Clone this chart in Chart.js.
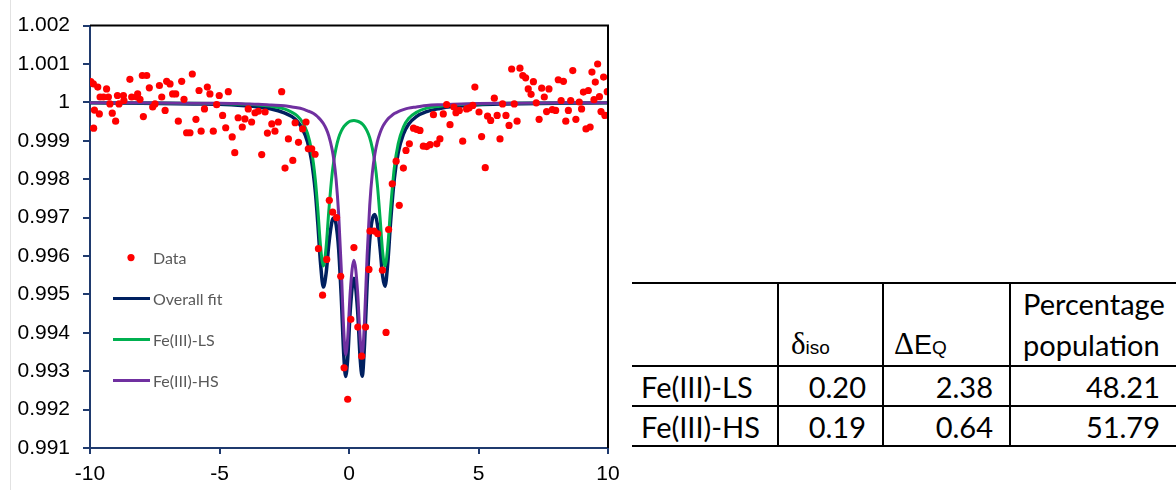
<!DOCTYPE html>
<html lang="en">
<head>
  <meta charset="UTF-8" />
  <title>Mössbauer spectrum fit</title>
  <script src="https://cdn.jsdelivr.net/npm/chart.js"></script>
  <style>
    body { margin: 0; width: 1176px; height: 490px; background: #fff; position: relative; overflow: hidden; }
    #edge { position: absolute; left: 10px; top: 0; width: 1px; height: 490px; background: #e2e2e2; }
    #plot { position: absolute; left: 0; top: 0; width: 620px; height: 490px; }
    #params {
      position: absolute; left: 632px; top: 282px; width: 544px;
      border-collapse: collapse; table-layout: fixed;
      font-family: Lato, "Open Sans", sans-serif; font-size: 29px; color: #000;
    }
    #params th, #params td { padding: 0; border-top: 2px solid #000; border-bottom: 2px solid #000; }
    #params th + th, #params td + td { border-left: 2px solid #000; }
    #params th { height: 79px; vertical-align: bottom; text-align: left; font-weight: normal; line-height: 1.4; padding-bottom: 0; }
    #params td { height: 38px; text-align: right; padding-right: 16px; line-height: 1; }
    #params td:first-child { text-align: left; padding-left: 9px; padding-right: 0; }
    .sym { font-family: "Liberation Serif", serif; font-size: 31px; }
    .sub { font-family: "Liberation Sans", Arial, sans-serif; font-size: 19px; }
    .ae { font-family: "Liberation Sans", Arial, sans-serif; font-size: 27px; }
  </style>
</head>
<body>
<div id="edge"></div>
<div id="plot"><canvas id="grafico"></canvas></div>
<table id="params">
  <colgroup><col style="width:146px"><col style="width:105px"><col style="width:127px"><col style="width:166px"></colgroup>
  <thead>
    <tr>
      <th></th>
      <th style="padding-left:12px"><span class="sym">δ</span><span class="sub">iso</span></th>
      <th style="padding-left:10px"><span class="sym">Δ</span><span class="ae">E</span><span class="sub">Q</span></th>
      <th style="padding-left:12px">Percentage<br>population</th>
    </tr>
  </thead>
  <tbody id="paramRows"></tbody>
</table>
<script>
// table values
const species = ['Fe(III)-LS', 'Fe(III)-HS'];
const isomerShift = [0.20, 0.19];
const quadSplit = [2.38, 0.64];
const population = [48.21, 51.79];

// measured points (velocity, relative transmission)
const dataX = [-9.97, -9.87, -9.86, -9.83, -9.70, -9.64, -9.61, -9.48, -9.36, -9.29, -9.23, -9.14, -9.01, -8.94, -8.88, -8.71, -8.69, -8.46, -8.39, -8.20,
  -8.16, -8.07, -7.98, -7.94, -7.81, -7.71, -7.58, -7.49, -7.32, -7.23, -7.10, -7.04, -6.91, -6.81, -6.69, -6.59, -6.46, -6.37, -6.27, -6.14,
  -6.05, -5.91, -5.79, -5.71, -5.58, -5.47, -5.37, -5.24, -5.11, -5.01, -4.88, -4.76, -4.66, -4.51, -4.41, -4.28, -4.12, -4.02, -3.89, -3.76,
  -3.63, -3.50, -3.37, -3.24, -3.15, -2.98, -2.86, -2.73, -2.60, -2.47, -2.34, -2.17, -2.08, -1.95, -1.79, -1.66, -1.57, -1.44, -1.31, -1.18,
  -1.02, -0.86, -0.76, -0.63, -0.48, -0.32, -0.19, -0.05, 0.07, 0.19, 0.34, 0.49, 0.64, 0.77, 0.81, 0.97, 1.11, 1.29, 1.43, 1.53,
  1.67, 1.82, 1.94, 2.10, 2.20, 2.33, 2.49, 2.61, 2.74, 2.87, 3.00, 3.13, 3.26, 3.39, 3.51, 3.64, 3.77, 3.90, 4.05, 4.13,
  4.26, 4.39, 4.54, 4.64, 4.78, 4.86, 5.02, 5.12, 5.26, 5.35, 5.47, 5.61, 5.72, 5.83, 5.93, 6.06, 6.18, 6.28, 6.38, 6.49,
  6.60, 6.71, 6.82, 6.92, 7.03, 7.12, 7.23, 7.34, 7.44, 7.54, 7.63, 7.72, 7.85, 7.98, 8.08, 8.19, 8.28, 8.37, 8.47, 8.56,
  8.64, 8.76, 8.89, 8.98, 9.05, 9.15, 9.24, 9.31, 9.38, 9.46, 9.51, 9.60, 9.67, 9.73, 9.83, 9.88, 9.97];
const dataY = [1.00054, 1.00048, 0.99933, 0.99980, 1.00040, 0.99970, 1.00014, 1.00014, 1.00035, 1.00014, 0.99996, 0.99972, 0.99951, 1.00018, 0.99996, 1.00018, 1.00005, 1.00060, 1.00014, 1.00014,
  1.00022, 1.00008, 1.00070, 0.99963, 1.00070, 1.00038, 0.99988, 0.99996, 1.00044, 1.00014, 0.99979, 1.00055, 1.00048, 1.00022, 1.00022, 0.99951, 1.00055, 1.00008, 0.99921, 0.99921,
  1.00074, 0.99956, 1.00031, 0.99925, 0.99983, 1.00040, 1.00022, 0.99925, 0.99994, 1.00018, 0.99966, 0.99934, 1.00028, 0.99910, 0.99869, 0.99960, 0.99936, 0.99957, 0.99983, 0.99949,
  0.99973, 0.99977, 0.99864, 0.99975, 0.99920, 0.99944, 0.99925, 0.99949, 1.00028, 0.99829, 0.99905, 0.99849, 0.99947, 0.99896, 0.99931, 0.99949, 0.99879, 0.99879, 0.99865, 0.99619,
  0.99498, 0.99591, 0.99745, 0.99714, 0.99700, 0.99547, 0.99309, 0.99227, 0.99435, 0.99622, 0.99415, 0.99339, 0.99415, 0.99565, 0.99665, 0.99665, 0.99658, 0.99563, 0.99401, 0.99669,
  0.99788, 0.99847, 0.99732, 0.99829, 0.99875, 0.99892, 0.99933, 0.99930, 0.99927, 0.99886, 0.99885, 0.99890, 0.99968, 0.99892, 0.99905, 0.99970, 0.99994, 0.99942, 0.99988, 0.99973,
  0.99979, 0.99899, 0.99983, 0.99986, 0.99992, 1.00040, 0.99975, 0.99911, 0.99830, 0.99964, 0.99953, 1.00011, 0.99966, 0.99905, 0.99996, 0.99966, 0.99940, 1.00087, 0.99996, 0.99951,
  1.00089, 1.00070, 1.00064, 1.00035, 1.00021, 1.00054, 0.99999, 0.99956, 1.00037, 1.00014, 0.99976, 1.00035, 0.99981, 0.99979, 1.00059, 1.00005, 1.00055, 0.99951, 0.99979, 1.00005,
  1.00083, 0.99956, 1.00001, 0.99983, 1.00027, 0.99931, 1.00031, 0.99936, 1.00079, 1.00007, 1.00053, 1.00100, 1.00015, 0.99976, 1.00066, 0.99966, 1.00028];

// fitted curves
const fitX = [-10, -8, -6, -5, -4, -3.5, -3, -2.5, -2.2, -2, -1.8, -1.6, -1.45, -1.3, -1.2, -1.1, -0.99, -0.88, -0.78, -0.65, -0.58,
  -0.5, -0.4, -0.3, -0.2, -0.13, -0.05, 0.05, 0.19, 0.33, 0.43, 0.51, 0.6, 0.7, 0.8, 0.9, 1.0, 1.1, 1.2, 1.3, 1.39,
  1.5, 1.6, 1.75, 1.9, 2.1, 2.3, 2.6, 3, 3.5, 4, 5, 6, 8, 10];
const fitOverall = [0.99999, 0.99998, 0.99996, 0.99995, 0.99991, 0.99988, 0.99983, 0.99973, 0.99963, 0.99951, 0.99931, 0.99897, 0.99850, 0.99767, 0.99681, 0.99582, 0.99519, 0.99557, 0.99630, 0.99692, 0.99699,
  0.99683, 0.99618, 0.99494, 0.99340, 0.99286, 0.99333, 0.99460, 0.99542, 0.99460, 0.99334, 0.99287, 0.99370, 0.99526, 0.99640, 0.99696, 0.99708, 0.99681, 0.99620, 0.99547, 0.99521,
  0.99584, 0.99683, 0.99801, 0.99869, 0.99917, 0.99943, 0.99963, 0.99976, 0.99984, 0.99989, 0.99994, 0.99996, 0.99998, 0.99999];
const fitLS = [0.99999, 0.99999, 0.99998, 0.99997, 0.99995, 0.99993, 0.99990, 0.99983, 0.99974, 0.99965, 0.99949, 0.99919, 0.99876, 0.99799, 0.99719, 0.99627, 0.99574, 0.99626, 0.99717, 0.99815, 0.99851,
  0.99881, 0.99908, 0.99925, 0.99937, 0.99942, 0.99947, 0.99951, 0.99953, 0.99951, 0.99948, 0.99944, 0.99937, 0.99925, 0.99908, 0.99881, 0.99842, 0.99782, 0.99699, 0.99610, 0.99574,
  0.99627, 0.99719, 0.99830, 0.99893, 0.99936, 0.99958, 0.99974, 0.99985, 0.99990, 0.99993, 0.99996, 0.99998, 0.99999, 0.99999];
const fitHS = [0.99999, 0.99999, 0.99998, 0.99998, 0.99996, 0.99995, 0.99993, 0.99991, 0.99988, 0.99986, 0.99983, 0.99978, 0.99974, 0.99968, 0.99962, 0.99955, 0.99945, 0.99931, 0.99913, 0.99877, 0.99848,
  0.99801, 0.99710, 0.99569, 0.99403, 0.99343, 0.99386, 0.99509, 0.99589, 0.99509, 0.99386, 0.99343, 0.99433, 0.99602, 0.99732, 0.99815, 0.99866, 0.99899, 0.99921, 0.99937, 0.99947,
  0.99957, 0.99963, 0.99971, 0.99976, 0.99981, 0.99985, 0.99988, 0.99992, 0.99994, 0.99995, 0.99997, 0.99998, 0.99999, 0.99999];

const legendItems = [
  { label: 'Data', kind: 'point', color: '#FF0000' },
  { label: 'Overall fit', kind: 'line', color: '#002060' },
  { label: 'Fe(III)-LS', kind: 'line', color: '#00B050' },
  { label: 'Fe(III)-HS', kind: 'line', color: '#7030A0' }
];

// table
const tbody = document.getElementById('paramRows');
species.forEach((s, i) => {
  const tr = document.createElement('tr');
  [s, isomerShift[i].toFixed(2), quadSplit[i].toFixed(2), population[i].toFixed(2)].forEach(v => {
    const td = document.createElement('td');
    td.textContent = v;
    tr.appendChild(td);
  });
  tbody.appendChild(tr);
});

const pts = (xs, ys) => xs.map((x, i) => ({ x: x, y: ys[i] }));
const NAVY = '#1F3A6E';

// top and right frame lines
const frame = {
  id: 'frame',
  afterDraw(chart) {
    const { ctx, chartArea: a } = chart;
    ctx.save();
    ctx.strokeStyle = '#000';
    ctx.lineWidth = 2;
    ctx.beginPath();
    ctx.moveTo(a.left, a.top);
    ctx.lineTo(a.right, a.top);
    ctx.lineTo(a.right, a.bottom);
    ctx.stroke();
    ctx.restore();
  }
};

// legend sits inside the plot, stacked
const insideLegend = {
  id: 'insideLegend',
  afterDraw(chart) {
    const { ctx, chartArea: a } = chart;
    ctx.save();
    ctx.font = '16px Lato, "Open Sans", sans-serif';
    ctx.textBaseline = 'middle';
    legendItems.forEach((it, i) => {
      const y = a.top + 232 + i * 41;
      if (it.kind === 'point') {
        ctx.beginPath();
        ctx.fillStyle = it.color;
        ctx.arc(a.left + 41, y, 3.6, 0, Math.PI * 2);
        ctx.fill();
      } else {
        ctx.strokeStyle = it.color;
        ctx.lineWidth = 3;
        ctx.beginPath();
        ctx.moveTo(a.left + 23, y);
        ctx.lineTo(a.left + 60, y);
        ctx.stroke();
      }
      ctx.fillStyle = '#595959';
      ctx.fillText(it.label, a.left + 63, y + 1);
    });
    ctx.restore();
  }
};

const tickFont = { family: '"Liberation Sans", Arial, sans-serif', size: 21 };

new Chart(document.getElementById('grafico'), {
  type: 'scatter',
  data: {
    datasets: [
      { label: 'Data', data: pts(dataX, dataY), backgroundColor: '#FF0000', borderWidth: 0, pointRadius: 3.6 },
      { label: 'Fe(III)-HS', data: pts(fitX, fitHS), showLine: true, borderColor: '#7030A0', borderWidth: 3, pointRadius: 0, cubicInterpolationMode: 'monotone' },
      { label: 'Fe(III)-LS', data: pts(fitX, fitLS), showLine: true, borderColor: '#00B050', borderWidth: 3, pointRadius: 0, cubicInterpolationMode: 'monotone' },
      { label: 'Overall fit', data: pts(fitX, fitOverall), showLine: true, borderColor: '#002060', borderWidth: 3.5, pointRadius: 0, cubicInterpolationMode: 'monotone' }
    ]
  },
  options: {
    responsive: true,
    maintainAspectRatio: false,
    animation: false,
    layout: { padding: { left: 0, top: 25, right: 0, bottom: 0 } },
    plugins: { legend: { display: false }, tooltip: { enabled: false } },
    scales: {
      x: {
        min: -10, max: 10,
        ticks: { stepSize: 5, color: '#000', font: tickFont, padding: 8, maxRotation: 0 },
        grid: { drawOnChartArea: false, drawTicks: true, tickLength: 6, color: NAVY, lineWidth: 2 },
        border: { color: NAVY, width: 2 },
        afterFit: s => { s.height = 42; s.paddingLeft = 0; s.paddingRight = 12; }
      },
      y: {
        min: 0.991, max: 1.002,
        ticks: { stepSize: 0.001, color: '#000', font: tickFont, padding: 13,
          callback: v => String(Number(v.toFixed(3))) },
        grid: { drawOnChartArea: false, drawTicks: true, tickLength: 7, color: NAVY, lineWidth: 2 },
        border: { color: NAVY, width: 2 },
        afterFit: s => { s.width = 90; }
      }
    }
  },
  plugins: [frame, insideLegend]
});
</script>
</body>
</html>
